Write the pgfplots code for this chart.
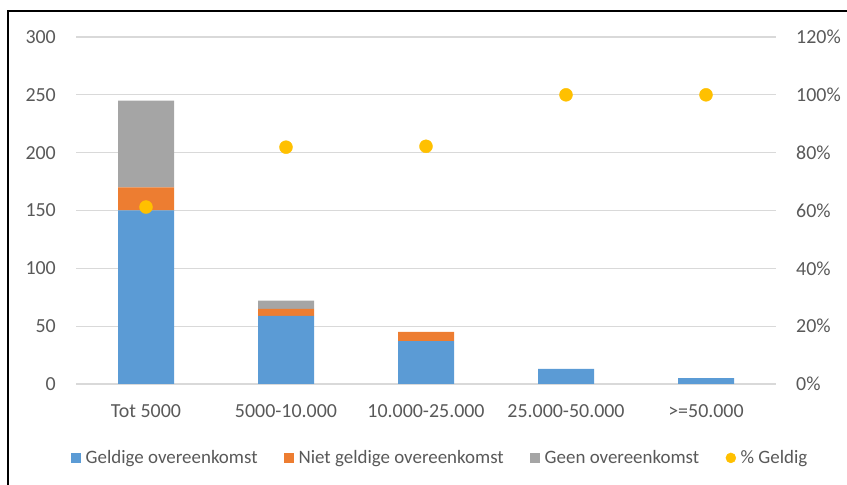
\documentclass[border=0pt]{standalone}
\usepackage{pgfplots}
\pgfplotsset{compat=1.18}
\usepackage{fontspec}
\setmainfont{Carlito}

\definecolor{cBlue}{HTML}{5B9BD5}
\definecolor{cOrange}{HTML}{ED7D31}
\definecolor{cGray}{HTML}{A5A5A5}
\definecolor{cYellow}{HTML}{FFC000}
\definecolor{gridgray}{HTML}{D9D9D9}
\definecolor{labelgray}{HTML}{595959}

\newcommand{\tickfont}{\fontsize{20}{23}\selectfont}
\newcommand{\legfont}{\fontsize{19}{22}\selectfont}

\pgfplotsset{
  base/.style={
    at={(76bp,101bp)}, anchor=south west,
    scale only axis, width=700bp, height=347bp,
    xmin=-0.5, xmax=4.5,
    axis line style={draw=none},
    major tick length=0pt,
    tick label style={font=\tickfont, text=labelgray, inner sep=0pt},
    /pgf/number format/assume math mode=true,
    yticklabel shift=20bp,
  },
}

\begin{document}
\begin{tikzpicture}
\useasboundingbox (0,0) rectangle (847bp,485bp);
\draw[line width=1.6bp, black] (8bp,0) -- (8bp,474bp) -- (847bp,474bp);

\begin{axis}[base,
  ymin=0, ymax=300,
  ytick={0,50,100,150,200,250,300},
  ymajorgrids,
  grid style={color=gridgray, line width=1.2bp},
  xtick={0,1,2,3,4},
  xticklabels={Tot 5000,5000-10.000,10.000-25.000,25.000-50.000,>=50.000},
  xticklabel shift=20bp,
  ybar stacked, bar width=0.4,
  legend columns=4,
  legend style={at={(0.52,-0.213)}, anchor=center, draw=none,
    font=\legfont, text=labelgray,
    nodes={inner sep=1.5bp},
    /tikz/every even column/.append style={column sep=25bp}},
  legend image code/.code={\fill[#1] (0bp,-5bp) rectangle (10bp,5bp);},
]
\addplot[fill=cBlue, draw=none] coordinates {(0,150) (1,59) (2,37) (3,13) (4,5)};
\addplot[fill=cOrange, draw=none] coordinates {(0,20) (1,6) (2,8) (3,0) (4,0)};
\addplot[fill=cGray, draw=none] coordinates {(0,75) (1,7) (2,0) (3,0) (4,0)};
\addlegendimage{legend image code/.code={\fill[cYellow] (5bp,0bp) circle (5bp);}}
\legend{\hspace{3bp}Geldige overeenkomst, \hspace{3bp}Niet geldige overeenkomst, \hspace{3bp}Geen overeenkomst, \hspace{3bp}\% Geldig}
\end{axis}

\begin{axis}[base,
  ymin=0, ymax=1.2,
  axis y line*=right,
  axis x line=none,
  ytick={0,0.2,0.4,0.6,0.8,1.0,1.2},
  yticklabels={0\%,20\%,40\%,60\%,80\%,100\%,120\%},
  yticklabel style={anchor=west},
]
\addplot[only marks, mark=*, mark size=6.5bp, color=cYellow]
  coordinates {(0,0.612) (1,0.819) (2,0.822) (3,1.0) (4,1.0)};
\end{axis}
\end{tikzpicture}
\end{document}
